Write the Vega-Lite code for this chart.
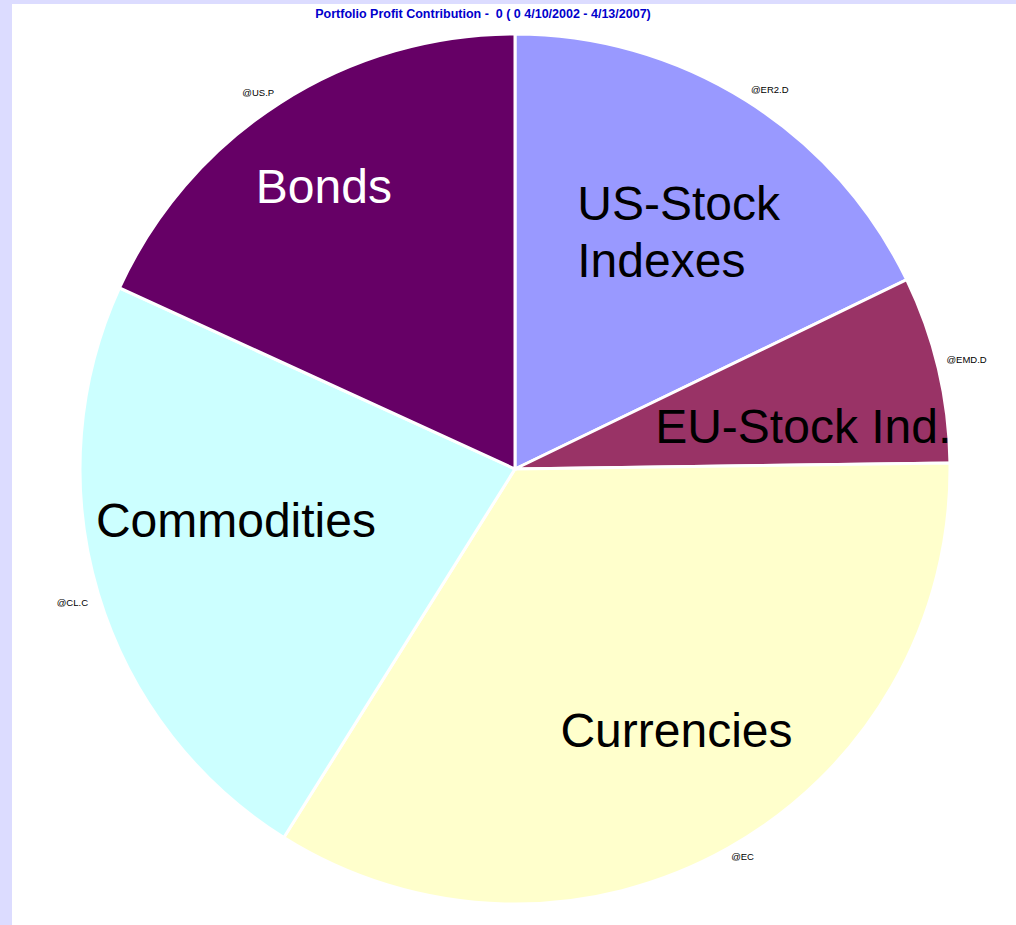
{
  "$schema": "https://vega.github.io/schema/vega-lite/v6.json",
  "width": 1006,
  "height": 930,
  "autosize": {"type": "none"},
  "padding": {"left": 12, "top": 4, "right": -2, "bottom": -9},
  "background": "#DCDCFF",
  "view": {"fill": "white", "stroke": null},
  "config": {"view": {"fill": "white", "stroke": null}, "font": "Liberation Sans"},
  "title": {
    "text": "Portfolio Profit Contribution -\u00a0 0 ( 0 4/10/2002 - 4/13/2007)",
    "anchor": "middle",
    "dx": -32,
    "offset": -26,
    "baseline": "alphabetic",
    "fontSize": 12.5,
    "fontWeight": "bold",
    "color": "#0000CC",
    "font": "Liberation Sans"
  },
  "data": {
    "values": [
      {"rank": 1, "group": "US-Stock Indexes", "label": "US-Stock\nIndexes", "symbol": "@ER2.D", "profit": 64.2},
      {"rank": 2, "group": "EU-Stock Ind.", "label": "EU-Stock Ind.", "symbol": "@EMD.D", "profit": 25.0},
      {"rank": 3, "group": "Currencies", "label": "Currencies", "symbol": "@EC", "profit": 122.9},
      {"rank": 4, "group": "Commodities", "label": "Commodities", "symbol": "@CL.C", "profit": 82.5},
      {"rank": 5, "group": "Bonds", "label": "Bonds", "symbol": "@US.P", "profit": 65.4}
    ]
  },
  "encoding": {
    "theta": {"field": "profit", "type": "quantitative", "stack": true},
    "order": {"field": "rank", "type": "ordinal"}
  },
  "layer": [
    {
      "mark": {"type": "arc", "radius": 435, "stroke": "white", "strokeWidth": 3},
      "encoding": {
        "color": {
          "field": "group",
          "type": "nominal",
          "scale": {
            "domain": ["US-Stock Indexes", "EU-Stock Ind.", "Currencies", "Commodities", "Bonds"],
            "range": ["#9999FF", "#993366", "#FFFFCC", "#CCFFFF", "#660066"]
          },
          "legend": null
        }
      }
    },
    {
      "mark": {"type": "text", "radius": 455, "dx": -11, "dy": 7, "fontSize": 9.5, "align": "center", "baseline": "middle", "color": "black"},
      "encoding": {"text": {"condition": {"test": "datum.group === 'Bonds'", "field": "symbol"}, "value": ""}}
    },
    {
      "mark": {"type": "text", "radius": 455, "dx": 13, "dy": 6, "fontSize": 9.5, "align": "center", "baseline": "middle", "color": "black"},
      "encoding": {"text": {"condition": {"test": "datum.group === 'US-Stock Indexes'", "field": "symbol"}, "value": ""}}
    },
    {
      "mark": {"type": "text", "radius": 464, "dx": 0, "dy": -2, "fontSize": 9.5, "align": "center", "baseline": "middle", "color": "black"},
      "encoding": {"text": {"condition": {"test": "datum.group === 'EU-Stock Ind.'", "field": "symbol"}, "value": ""}}
    },
    {
      "mark": {"type": "text", "radius": 450, "dx": 7, "dy": -4, "fontSize": 9.5, "align": "center", "baseline": "middle", "color": "black"},
      "encoding": {"text": {"condition": {"test": "datum.group === 'Currencies'", "field": "symbol"}, "value": ""}}
    },
    {
      "mark": {"type": "text", "radius": 462, "dx": 0, "dy": 2, "fontSize": 9.5, "align": "center", "baseline": "middle", "color": "black"},
      "encoding": {"text": {"condition": {"test": "datum.group === 'Commodities'", "field": "symbol"}, "value": ""}}
    },
    {
      "mark": {"type": "text", "radius": 339, "dx": -8, "dy": 5, "fontSize": 48, "align": "center", "baseline": "middle", "color": "white"},
      "encoding": {"text": {"condition": {"test": "datum.group === 'Bonds'", "field": "label"}, "value": ""}}
    },
    {
      "mark": {"type": "text", "radius": 279, "dx": -86, "dy": -27, "fontSize": 48, "align": "left", "baseline": "middle", "lineBreak": "\n", "lineHeight": 57, "color": "black"},
      "encoding": {"text": {"condition": {"test": "datum.group === 'US-Stock Indexes'", "field": "label"}, "value": ""}}
    },
    {
      "mark": {"type": "text", "radius": 290, "dx": 6, "dy": 27, "fontSize": 48, "align": "center", "baseline": "middle", "color": "black"},
      "encoding": {"text": {"condition": {"test": "datum.group === 'EU-Stock Ind.'", "field": "label"}, "value": ""}}
    },
    {
      "mark": {"type": "text", "radius": 309, "dx": 10, "dy": -5, "fontSize": 48, "align": "center", "baseline": "middle", "color": "black"},
      "encoding": {"text": {"condition": {"test": "datum.group === 'Currencies'", "field": "label"}, "value": ""}}
    },
    {
      "mark": {"type": "text", "radius": 284, "dx": -7, "dy": -27, "fontSize": 48, "align": "center", "baseline": "middle", "color": "black"},
      "encoding": {"text": {"condition": {"test": "datum.group === 'Commodities'", "field": "label"}, "value": ""}}
    }
  ]
}
